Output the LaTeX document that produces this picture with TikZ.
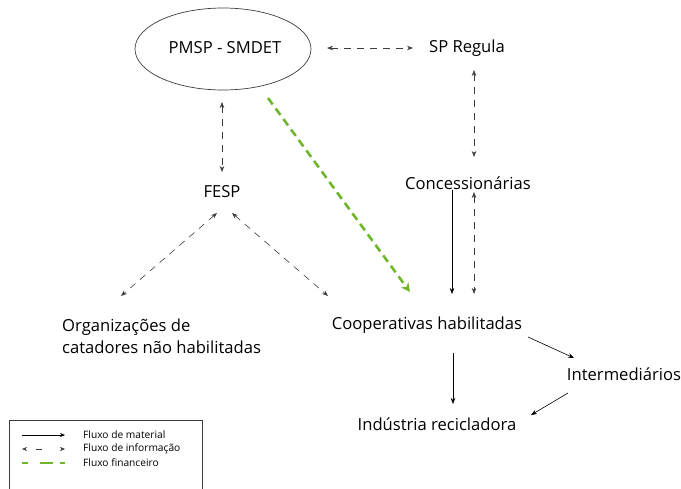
\documentclass[tikz,border=0pt]{standalone}
\usepackage{fontspec}
\setmainfont{Open Sans}
\usetikzlibrary{arrows.meta,shapes.geometric}
\definecolor{fingreen}{RGB}{112,182,44}
\definecolor{dgray}{RGB}{60,60,60}
\tikzset{
  lbl/.style={inner sep=0pt, font=\fontsize{16.6}{22}\selectfont},
  tip/.style={-{Stealth[length=6pt,width=4.5pt]}},
  mat/.style={tip, draw=black, line width=0.6pt},
  info/.style={{Stealth[length=6pt,width=4.5pt]}-{Stealth[length=6pt,width=4.5pt]}, draw=dgray, line width=0.6pt, dash pattern=on 7pt off 6pt},
  fin/.style={-{Stealth[length=9pt,width=9pt]}, draw=fingreen, line width=2.6pt, dash pattern=on 8pt off 5pt},
  leg/.style={inner sep=0pt, anchor=west, font=\fontsize{10.2}{12}\selectfont}
}
\begin{document}
\begin{tikzpicture}[x=1pt,y=-1pt]
\useasboundingbox (0,0) rectangle (681,488);
\node[draw=dgray, line width=0.7pt, ellipse, minimum width=176pt, minimum height=82pt, inner sep=0pt] (pmsp) at (223,49) {};
\node[lbl] (pmspt) at (225,48) {PMSP - SMDET};
\node[lbl] (spr) at (467,48) {SP Regula};
\node[lbl] (conc) at (468,183) {Concession\'arias};
\node[lbl] (fesp) at (222,192) {FESP};
\node[lbl] (coop) at (427,325) {Cooperativas habilitadas};
\node[lbl, align=left, anchor=north west] (org) at (62,319) {Organiza\c{c}\~oes de\\catadores n\~ao habilitadas};
\node[lbl] (inter) at (624,374) {Intermedi\'arios};
\node[lbl] (ind) at (437,424) {Ind\'ustria recicladora};

\coordinate (a1) at (327,48); \coordinate (a2) at (413,48);
\draw[info] (a1) -- (a2);
\coordinate (b1) at (474,70); \coordinate (b2) at (474,157);
\draw[info] (b1) -- (b2);
\coordinate (c1) at (222,102); \coordinate (c2) at (222,172);
\draw[info] (c1) -- (c2);
\coordinate (d1) at (217,213); \coordinate (d2) at (121,296);
\draw[info] (d1) -- (d2);
\coordinate (e1) at (232,213); \coordinate (e2) at (328,296);
\draw[info] (e1) -- (e2);
\coordinate (f1) at (474,192); \coordinate (f2) at (474,294);
\draw[info] (f1) -- (f2);
\coordinate (g1) at (452,190); \coordinate (g2) at (452,294);
\draw[mat] (g1) -- (g2);
\coordinate (h1) at (268,98); \coordinate (h2) at (410,292);
\draw[fin] (h1) -- (h2);
\coordinate (i1) at (453,353); \coordinate (i2) at (453,404);
\draw[mat] (i1) -- (i2);
\coordinate (j1) at (528,337); \coordinate (j2) at (574,358);
\draw[mat] (j1) -- (j2);
\coordinate (k1) at (568,393); \coordinate (k2) at (531,415);
\draw[mat] (k1) -- (k2);

% legend
\draw[dgray, line width=0.7pt] (9,492) -- (9,420) -- (202,420) -- (202,492);
\coordinate (l1a) at (22,435); \coordinate (l1b) at (65,435);
\draw[mat, line width=0.5pt, -{Stealth[length=5pt,width=4pt]}] (l1a) -- (l1b);
\node[leg] (l1) at (83,435) {Fluxo de material};
\coordinate (l2a) at (22,449); \coordinate (l2b) at (65,449);
\draw[draw=dgray, line width=0.5pt, dash pattern=on 0pt off 11pt on 6pt off 40pt, {Stealth[length=5pt,width=4pt]}-{Stealth[length=5pt,width=4pt]}] (l2a) -- (l2b);
\node[leg] (l2) at (83,449) {Fluxo de informa\c{c}\~ao};
\coordinate (l3a) at (22,463); \coordinate (l3b) at (65,463);
\draw[fingreen, line width=2pt, dash pattern=on 6pt off 12pt on 13pt off 7pt on 5pt off 5pt] (l3a) -- (l3b);
\node[leg] (l3) at (83,463) {Fluxo financeiro};
\end{tikzpicture}
\end{document}
